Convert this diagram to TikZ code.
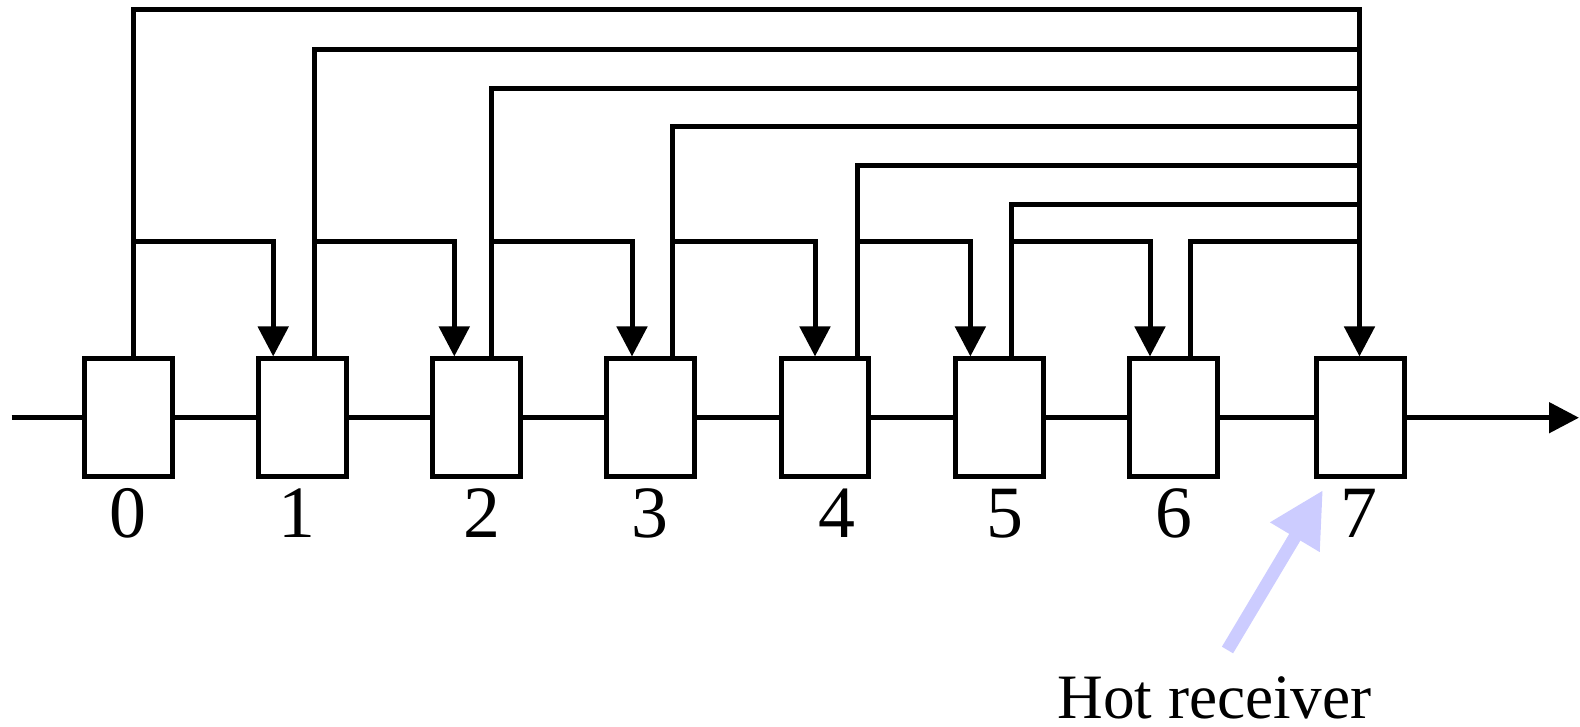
\documentclass[tikz,border=0pt]{standalone}
\usepackage{fontspec}
\setmainfont{Liberation Serif}
\usetikzlibrary{arrows.meta}

\definecolor{hotblue}{RGB}{204,204,255}

\tikzset{
	cell/.style={rectangle, draw=black, fill=white, line width=0.1cm, minimum width=1.76cm, minimum height=2.35cm, inner sep=0pt},
	wire/.style={line width=0.1cm},
	feed/.style={wire, -{Triangle[width=0.6cm, length=0.6cm]}},
	digit/.style={font=\fontsize{42pt}{48pt}\selectfont, inner sep=0pt, anchor=base},
	hotlabel/.style={font=\fontsize{36pt}{42pt}\selectfont, inner sep=0pt, anchor=base},
	hotarrow/.style={draw=hotblue, line width=0.26cm, -{Triangle[width=1.08cm, length=1.1cm]}}
}

\begin{document}
\begin{tikzpicture}[x=0.02cm, y=-0.02cm]
		\useasboundingbox (0,0) rectangle (1580,727);
		\def\ym{417.7}
		\def\ybr{241}
		\coordinate (bus) at (1359.5,0);
		% the chain
		\node[cell] (b0) at (128.3,\ym) {};
		\node[cell] (b1) at (302.5,\ym) {};
		\node[cell] (b2) at (476.5,\ym) {};
		\node[cell] (b3) at (650.5,\ym) {};
		\node[cell] (b4) at (825,\ym) {};
		\node[cell] (b5) at (999.5,\ym) {};
		\node[cell] (b6) at (1173.5,\ym) {};
		\node[cell] (b7) at (1360,\ym) {};
		\coordinate (in) at (11.7,\ym);
		\coordinate (out) at (1579,\ym);
		\draw[wire] (in) -- (b0.west);
		\foreach \a/\b in {0/1,1/2,2/3,3/4,4/5,5/6,6/7}
			\draw[wire] (b\a.east) -- (b\b.west);
		\draw[feed] (b7.east) -- (out);
		% taps and the long lines
		\foreach \i/\j/\tx/\ly/\rx in {0/1/133.5/9.5/273.2, 1/2/314/49/454.3, 2/3/491/88/632, 3/4/672/126/815, 4/5/857/165/970.4, 5/6/1011/204/1150}
		{
			\coordinate (t\i) at (\tx,\ly);
			\coordinate (r\j) at (\rx,\ybr);
			\draw[feed] (t\i |- r\j) -- (r\j) -- (b\j.north -| r\j);
		}
		\coordinate (t6) at (1190.5,\ybr);
		\draw[feed] (b0.north -| t0) -- (t0) -- (t0 -| bus) -- (b7.north -| bus);
		\foreach \i in {1,...,6}
			\draw[wire] (b\i.north -| t\i) -- (t\i) -- (t\i -| bus);
		% numbers
		\node[digit] (n0) at (128.3,537) {0};
		\node[digit] (n1) at (296.7,537) {1};
		\node[digit] (n2) at (481.7,537) {2};
		\node[digit] (n3) at (650,537) {3};
		\node[digit] (n4) at (837,537) {4};
		\node[digit] (n5) at (1005,537) {5};
		\node[digit] (n6) at (1173.5,537) {6};
		\node[digit] (n7) at (1359,537) {7};
		% hot receiver
		\node[hotlabel] (hot) at (1214.5,718) {Hot receiver};
		\coordinate (hottail) at (1227.5,650);
		\coordinate (hottip) at (1323,490);
		\draw[hotarrow] (hottail) -- (hottip);
	\end{tikzpicture}
\end{document}
